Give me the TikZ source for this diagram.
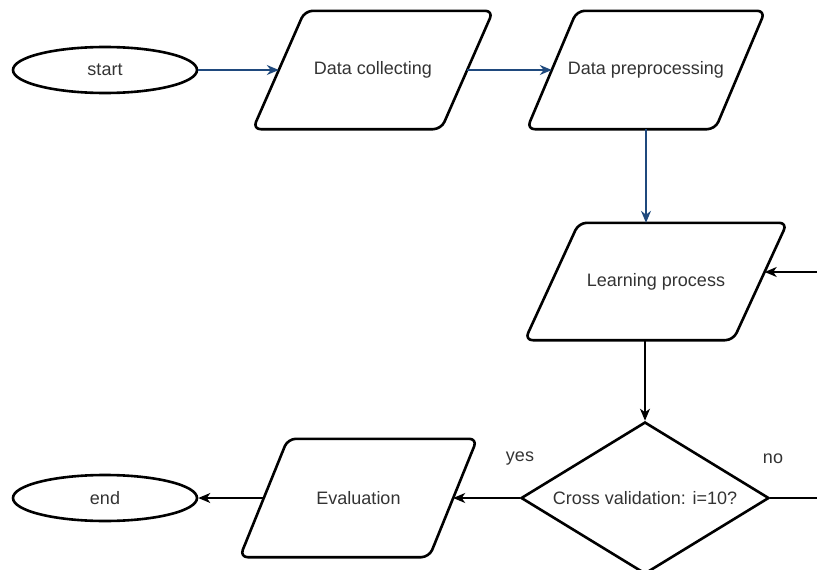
\documentclass[tikz,border=0pt]{standalone}
\usepackage{fontspec}
\setmainfont{Liberation Sans}
\usetikzlibrary{shapes.geometric,arrows.meta,calc}
\definecolor{linkblue}{RGB}{31,73,125}
\definecolor{txt}{RGB}{51,51,51}
\tikzset{
  lblfont/.style={font=\fontsize{18}{21}\selectfont},
  shapeline/.style={draw=black, line width=2.6pt, rounded corners=8pt, line join=round},
  paratext/.style={inner sep=0pt, text=txt, lblfont},
  term/.style={ellipse, draw=black, line width=2.6pt, inner sep=0pt,
    minimum width=184pt, minimum height=46pt, text=txt, lblfont},
  decision/.style={diamond, draw=black, line width=2.6pt, inner sep=0pt, aspect=1.63,
    minimum width=248pt, minimum height=152pt, text=txt, lblfont},
  blueflow/.style={draw=linkblue, line width=1.4pt, -{Stealth[length=12pt,width=10pt]}},
  blackflow/.style={draw=black, line width=1.4pt, -{Stealth[length=12pt,width=10pt,inset=3.5pt]}},
  blackline/.style={draw=black, line width=1.4pt},
  lbl/.style={inner sep=0pt, text=txt, lblfont}
}
\newcommand\parabox[6]{%
  \node[paratext, minimum width=#3pt, minimum height=#4pt] (#1) at (#2) {#6};
  \draw[shapeline] ([xshift=#5pt]#1.north west) -- ([xshift=#5pt]#1.north east)
    -- ([xshift=-#5pt]#1.south east) -- ([xshift=-#5pt]#1.south west) -- cycle;
}
\begin{document}
\begin{tikzpicture}[x=1pt,y=-1pt]
  \useasboundingbox (0,0) rectangle (817,570);
  \clip (0,0) rectangle (817,570);
  % terminals
  \node[term] (st) at (105,70) {start};
  \node[term] (en) at (105,498) {end};
  % parallelograms
  \parabox{dc}{373,70}{188}{118}{26}{Data collecting}
  \parabox{dp}{646,70}{188}{118}{25}{Data preprocessing}
  \parabox{lp}{656,281.5}{208}{117}{27}{Learning process}
  \parabox{ev}{358.5,498}{189}{118}{24}{Evaluation}
  % decision
  \node[decision] (cv) at (645,498) {Cross validation: i=10?};
  \node[lbl] (yes) at (520,459) {yes};
  \node[lbl] (no) at (773,459) {no};
  % free ends of the loop
  \coordinate (noB) at (830,498);
  \coordinate (noT) at (830,272);
  % connectors
  \draw[blueflow] (st.east) -- (dc.west);
  \draw[blueflow] (dc.east) -- (dp.west);
  \draw[blueflow] (dp.south) -- (dp.south |- lp.north);
  \draw[blackflow] (cv.north |- lp.south) -- (cv.north);
  \draw[blackflow] (cv.west) -- (ev.east);
  \draw[blackflow] (ev.west) -- (en.east);
  \draw[blackline] (cv.east) -- (noB);
  \draw[blackflow] (noT) -- ($(noT -| lp.east)+(4.5,0)$);
\end{tikzpicture}
\end{document}
